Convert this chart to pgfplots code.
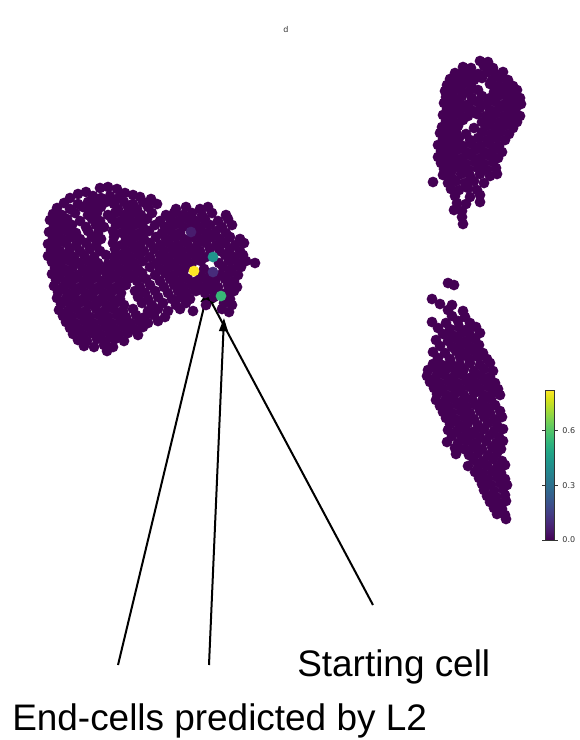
\documentclass[border=0pt]{standalone}
\usepackage{pgfplots}
\pgfplotsset{compat=1.18}
\usepackage{fontspec}
\setmainfont{Liberation Sans}
\newfontfamily\dejavu{DejaVu Sans}
\usetikzlibrary{arrows.meta}
\definecolor{vir0}{HTML}{440154}
\begin{document}
\begin{tikzpicture}
\path (0,0) rectangle (426pt,555pt);
\begin{axis}[
  at={(0,0)}, anchor=south west,
  scale only axis, width=426pt, height=555pt,
  xmin=0, xmax=568, ymin=0, ymax=740, y dir=reverse,
  hide axis, clip=false,
  colormap name=viridis,
  point meta min=0, point meta max=0.82,
  colorbar,
  colorbar style={
    at={(400.5pt,150pt)}, anchor=south west,
    scale only axis, width=6.75pt, height=112.5pt,
    ytick={0,0.3,0.6},
    tick align=outside, major tick length=2.5pt,
    axis line style={line width=0.4pt, black!80},
    tick style={line width=0.4pt, black!80},
    yticklabel style={font=\fontsize{6}{7}\selectfont\dejavu, text=black!80,
      /pgf/number format/fixed, /pgf/number format/fixed zerofill,
      /pgf/number format/precision=1, /pgf/number format/assume math mode=true},
  },
]
% cluster A (left)
\addplot[only marks, mark=*, mark size=3.8pt, color=vir0, mark options={draw=vir0, fill=vir0}] coordinates {
(100,188) (108,187) (117,189)
(78,194) (86,192) (125,193) (133,195)
(70,198) (93,196) (101,198) (110,196) (119,198) (140,197) (151,199)
(64,203) (78,204) (88,202) (97,204) (106,202) (114,204) (124,202) (133,204) (143,202) (157,204)
(57,208) (70,209) (83,207) (92,209) (101,207) (118,209) (128,207) (137,209) (148,207) (176,209) (186,207) (200,209) (208,207)
(53,214) (62,215) (75,213) (88,215) (97,213) (108,215) (115,213) (124,215) (133,213) (141,215) (152,213) (166,215) (174,213) (183,215) (192,213) (202,215) (212,213) (226,215)
(50,220) (58,221) (67,219) (80,221) (92,219) (100,221) (112,219) (121,221) (129,219) (138,221) (147,219) (160,221) (170,219) (179,221) (188,219) (196,221) (205,219) (218,221) (228,219)
(54,226) (63,227) (72,225) (86,227) (96,225) (104,227) (116,225) (125,227) (134,225) (143,227) (155,225) (165,227) (174,225) (183,227) (192,225) (201,227) (210,225) (222,227) (232,225)
(49,232) (58,233) (67,231) (76,233) (88,231) (98,233) (113,231) (122,233) (131,231) (140,233) (149,231) (162,233) (171,231) (180,233) (198,231) (207,233) (216,231) (226,233)
(53,238) (62,239) (71,237) (80,239) (92,237) (101,239) (114,237) (126,239) (135,237) (144,239) (156,237) (166,239) (175,237) (184,239) (193,237) (202,239) (211,237) (220,239) (230,237) (240,239)
(48,244) (57,245) (66,243) (76,245) (86,243) (96,245) (113,243) (122,245) (131,243) (140,245) (150,243) (160,245) (169,243) (178,245) (187,243) (197,245) (206,243) (216,245) (225,243) (235,245) (244,243)
(51,250) (60,251) (70,249) (80,251) (90,249) (100,251) (106,255) (115,249) (126,251) (135,249) (144,251) (154,249) (164,251) (173,249) (182,251) (191,249) (200,251) (210,249) (220,251) (230,249) (240,251)
(48,256) (56,257) (65,255) (74,257) (84,255) (94,257) (114,257) (121,255) (130,257) (139,255) (150,257) (160,255) (169,257) (178,255) (187,257) (196,255) (206,257) (225,255) (234,257) (243,255)
(52,262) (61,263) (70,261) (79,263) (88,261) (98,263) (108,264) (116,263) (125,261) (134,263) (143,261) (156,263) (165,261) (174,263) (183,261) (192,263) (201,261) (219,263) (229,261) (238,263) (246,261) (255,263)
(55,268) (64,269) (73,267) (83,269) (92,267) (101,269) (111,267) (120,269) (129,267) (138,269) (150,267) (160,269) (169,267) (178,269) (187,267) (204,269) (223,267) (232,269) (241,267)
(52,274) (60,275) (69,273) (78,275) (87,273) (96,275) (106,273) (115,275) (124,273) (133,275) (142,273) (155,275) (165,273) (174,275) (183,273) (201,275) (211,273) (220,275) (229,273) (238,275)
(56,280) (65,281) (74,279) (83,281) (92,279) (101,281) (110,279) (119,281) (128,279) (137,281) (146,279) (160,281) (170,279) (179,281) (188,279) (197,281) (206,279) (215,281) (225,279) (234,281)
(54,286) (63,287) (72,285) (81,287) (90,285) (99,287) (108,285) (117,287) (126,285) (140,287) (150,285) (164,287) (174,285) (183,287) (192,285) (201,287) (209,285) (218,287) (228,285) (237,287)
(58,292) (67,293) (76,291) (85,293) (94,291) (103,293) (112,291) (121,293) (135,291) (145,293) (155,291) (168,293) (178,291) (187,293) (196,291) (205,293) (214,291) (226,293) (234,291)
(57,298) (66,299) (75,297) (84,299) (93,297) (102,299) (111,297) (120,299) (138,297) (148,299) (158,297) (172,299) (181,297) (190,299) (214,297) (230,299)
(61,304) (70,305) (79,303) (88,305) (97,303) (106,305) (115,303) (124,305) (142,303) (152,305) (163,303) (176,305) (186,303) (206,305) (224,303) (232,305)
(59,310) (68,311) (77,309) (86,311) (96,309) (105,311) (114,309) (123,311) (133,309) (148,311) (158,309) (168,311) (180,309) (193,311) (222,309) (229,312)
(63,316) (72,317) (81,315) (90,317) (99,315) (108,317) (117,315) (126,317) (136,315) (145,317) (154,315) (165,317)
(66,322) (75,323) (84,321) (93,323) (102,321) (111,323) (120,321) (130,323) (139,321) (148,323) (158,321)
(70,328) (79,329) (88,327) (97,329) (106,327) (115,329) (124,327) (134,329) (143,327)
(73,334) (83,335) (92,333) (101,335) (110,333) (119,335) (128,333) (138,335)
(78,340) (87,341) (97,339) (106,341) (115,339) (124,341)
(84,346) (94,347) (104,345) (113,347)
(107,351)
};
% cluster B (top right)
\addplot[only marks, mark=*, mark size=3.8pt, color=vir0, mark options={draw=vir0, fill=vir0}] coordinates {
(480,61) (488,62)
(463,67) (471,68) (484,66) (493,68)
(455,73) (462,74) (470,72) (478,74) (487,72) (496,74) (503,72)
(450,79) (458,80) (466,78) (474,80) (482,78) (492,80) (500,78) (508,80)
(447,85) (455,86) (463,84) (471,86) (490,84) (499,86) (507,84) (513,86)
(445,91) (453,92) (461,90) (469,92) (478,90) (494,92) (503,90) (511,92) (517,90)
(446,97) (454,98) (462,96) (472,98) (482,96) (490,98) (498,96) (507,98) (515,96) (520,98)
(444,103) (452,104) (460,102) (469,104) (478,102) (487,104) (496,102) (505,104) (513,102) (521,104)
(447,109) (455,110) (463,108) (471,110) (480,108) (490,110) (499,108) (508,110) (516,108)
(443,115) (451,116) (459,114) (468,116) (477,114) (486,116) (495,114) (504,116) (513,114) (520,116)
(446,121) (454,122) (463,120) (482,122) (491,120) (500,122) (509,120) (517,122)
(442,127) (450,128) (458,126) (474,128) (486,126) (495,128) (504,126) (513,128)
(440,133) (448,134) (456,132) (466,134) (482,132) (491,134) (500,132) (509,134)
(443,139) (451,140) (459,138) (470,140) (478,138) (487,140) (496,138) (505,140)
(438,145) (446,146) (454,144) (463,146) (472,144) (481,146) (490,144) (499,146)
(441,151) (449,152) (457,150) (466,152) (475,150) (484,152) (493,150) (502,152)
(438,157) (446,158) (454,156) (463,158) (472,156) (481,158) (490,156) (498,158)
(441,163) (449,164) (457,162) (466,164) (475,162) (484,164) (493,162)
(444,169) (452,170) (460,168) (469,170) (478,168) (487,170) (496,168)
(443,175) (451,176) (461,174) (470,176) (480,174) (490,176) (497,174)
(433,182) (448,183) (456,181) (465,183) (474,181) (484,183)
(451,189) (459,190) (468,188) (477,190)
(455,196) (470,197) (480,195)
(457,203) (466,204) (480,202)
(454,210) (462,211)
(462,217)
(463,224)
};
% cluster C (lower right)
\addplot[only marks, mark=*, mark size=3.8pt, color=vir0, mark options={draw=vir0, fill=vir0}] coordinates {
(448,283) (454,285)
(432,299)
(440,304) (452,305)
(448,310) (463,311)
(452,316) (465,317)
(432,322) (446,323) (458,321) (470,323)
(438,328) (450,329) (459,327) (468,329) (476,327)
(443,334) (452,335) (461,333) (470,335) (480,333)
(436,340) (448,341) (457,339) (466,341) (475,339)
(440,346) (452,347) (461,345) (470,347) (479,345)
(433,352) (445,353) (456,351) (465,353) (474,351) (483,353)
(438,358) (450,359) (460,357) (469,359) (478,357) (487,359)
(433,364) (442,365) (451,363) (460,365) (470,363) (480,365) (490,363)
(428,370) (437,371) (446,369) (455,371) (464,369) (474,371) (484,369) (493,371)
(427,376) (436,377) (445,375) (454,377) (463,375) (472,377) (481,375) (490,377)
(430,382) (439,383) (448,381) (457,383) (466,381) (476,383) (485,381) (495,383)
(434,388) (443,389) (452,387) (461,389) (470,387) (480,389) (489,387) (498,389)
(437,394) (446,395) (455,393) (464,395) (474,393) (483,395) (492,393) (500,395)
(436,400) (445,401) (454,399) (463,401) (472,399) (482,401) (491,399)
(440,406) (449,407) (458,405) (467,407) (476,405) (486,407) (495,405)
(443,412) (452,413) (461,411) (470,413) (480,411) (490,413) (500,411)
(446,418) (455,419) (464,417) (474,419) (484,417) (494,419) (502,417)
(450,424) (459,425) (468,423) (478,425) (488,423) (497,425)
(448,430) (457,431) (466,429) (475,431) (484,429) (494,431) (503,429)
(452,436) (462,437) (471,435) (480,437) (490,435) (499,437)
(447,442) (458,443) (467,441) (476,443) (486,441) (496,443) (503,441)
(455,448) (464,449) (473,447) (482,449) (492,447) (501,449)
(456,454) (469,455) (478,453) (488,455) (497,453)
(474,460) (483,461) (493,459) (502,461)
(468,466) (478,467) (487,465) (497,467) (505,465)
(475,472) (483,473) (492,471) (501,473)
(479,478) (488,479) (497,477) (505,479)
(482,484) (491,485) (500,483) (507,485)
(484,490) (494,491) (503,489)
(487,496) (496,497) (505,495)
(490,502) (499,503) (506,501)
(494,508) (502,509)
(497,514) (505,515)
(506,519)
};
% cells with non-zero value
\addplot[scatter, only marks, mark=*, mark size=3.8pt, point meta=explicit,
  scatter/use mapped color={draw=mapped color, fill=mapped color}] coordinates {
(191,232) [0.06]
(213,272) [0.10]
(213,257) [0.42]
(221,296) [0.55]
(194,271) [0.82]
};
% title
\node[font=\fontsize{6}{7}\selectfont\dejavu, text=black!80] at (axis cs:286,30) {d};
% arrows
\draw[line width=1.5pt, -{Triangle[length=10pt,width=6.5pt]}] (axis cs:118,665) -- (axis cs:208,290);
\draw[line width=1.5pt, -{Triangle[length=10pt,width=6.5pt]}] (axis cs:209,665) -- (axis cs:224,318);
\draw[line width=1.5pt, -{Triangle[length=10pt,width=6.5pt]}] (axis cs:373,605) -- (axis cs:206,292);
% texts
\node[anchor=base west, inner sep=0pt, font=\fontsize{27.7}{30}\selectfont] at (axis cs:297,676) {Starting cell};
\node[anchor=base west, inner sep=0pt, font=\fontsize{27.7}{30}\selectfont] at (axis cs:12,730) {End-cells predicted by L2};
\end{axis}
\end{tikzpicture}
\end{document}
